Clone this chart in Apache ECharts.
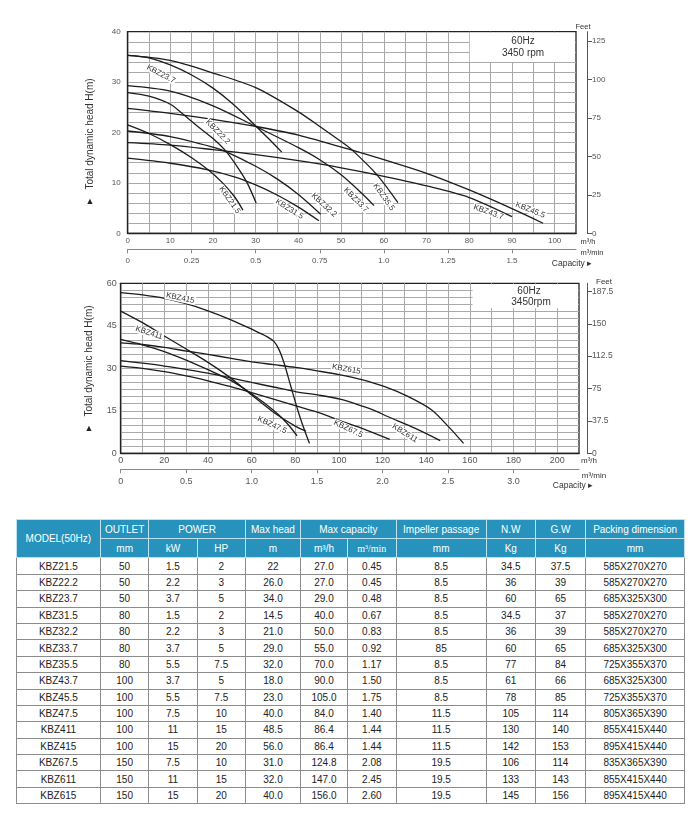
<!DOCTYPE html>
<html>
<head>
<meta charset="utf-8">
<script src="https://cdn.jsdelivr.net/npm/echarts@6/dist/echarts.min.js"></script>
<style>
  html, body { margin: 0; padding: 0; background: #fff; }
  body { width: 700px; height: 819px; position: relative; overflow: hidden; font-family: "Liberation Sans", Arial, sans-serif; }
  #chart { position: absolute; left: 0; top: 0; width: 700px; height: 512px; }
  #spec { position: absolute; left: 15.7px; top: 519px; border-collapse: collapse; table-layout: fixed; width: 669px; font-size: 10px; color: #222; }
  #spec td, #spec th { text-align: center; padding: 0; overflow: hidden; white-space: nowrap; }
  #spec th { background: #2793bc; color: #fff; font-weight: normal; border: 1px solid #bfe0ee; }
  #spec td { border: 1px solid #8c8c8c; height: 15.4px; line-height: 15px; }
  #spec tr.h1 th { height: 18px; }
  #spec tr.h2 th { height: 18.4px; }
</style>
</head>
<body>
<div id="chart"></div>
<table id="spec"></table>
<script>
// ---------------- chart 1 data (60Hz, capacity m3/h vs head m) ----------------
const kbz215 = [[0,21.5],[5,19.8],[10,17.6],[15,15.0],[19,12.5],[22,10.2],[25,7.3],[27,4.6]];
const kbz222 = [[0,27.9],[5,27.2],[10,25.6],[13,23.6],[16,21.5],[20,18.8],[23,16.3],[26,12.8],[28,10.0],[30.1,6.0]];
const kbz237 = [[0,35.3],[5,34.8],[10,33.4],[15,31.4],[20,28.8],[25,25.4],[30,21.3],[33,18.8],[36.1,16.1]];
const kbz315 = [[0,14.9],[10,13.9],[18.8,12.6],[25,11.2],[30,9.6],[35,7.6],[40,5.2],[44.8,2.5]];
const kbz322 = [[0,20.3],[10,19.2],[20,17.1],[23,16.2],[30,13.3],[35,10.8],[40,7.7],[45.2,3.8]];
const kbz337 = [[0,29.3],[10,28.2],[20,25.3],[30,21.2],[40,17.0],[45,14.6],[50,11.6],[55,7.8],[57.7,5.5]];
const kbz355 = [[0,35.3],[10,34.3],[20,31.8],[30,28.9],[40,24.1],[45,21.2],[50,18.2],[52.6,16.5],[58.4,11.6],[63.3,6.1]];
const kbz437 = [[0,18.0],[10,17.5],[20,16.6],[30,15.6],[40,14.4],[50,13.0],[58.4,11.6],[70,9.4],[80,7.1],[90,3.3]];
const kbz455 = [[0,24.8],[10,23.8],[20,22.6],[30,21.2],[40,19.5],[52.6,16.5],[60,14.6],[70,11.9],[80,8.6],[90,4.9],[97.3,2.0]];

// ---------------- chart 2 data ----------------
const kbz475 = [[0,40.2],[10,38.3],[20,35.9],[30,32.9],[40,29.5],[50,25.9],[60,21.0],[70,15.2],[76,10.8],[80.8,6.2]];
const kbz411 = [[0,50.2],[10,46.1],[20,41.4],[30,36.8],[40,32.1],[50,26.8],[60,20.6],[70,14.5],[80,9.6],[84.9,7.8]];
const kbz415 = [[0,56.7],[10,55.9],[20,54.7],[30,52.8],[40,50.3],[50,47.3],[60,43.8],[67,41.2],[70.3,39.4],[72.6,36.5],[74.9,31.8],[78,23.5],[81.1,15.3],[84.2,8.2],[86.5,3.5]];
const kbz675 = [[0,30.8],[10,30.0],[20,28.8],[30,27.3],[40,25.6],[50,23.6],[60,21.4],[70,19.1],[80,16.8],[91.8,14.1],[101,11.4],[110,9.0],[123.3,4.9]];
const kbz611 = [[0,32.7],[10,31.8],[20,30.8],[30,29.6],[40,28.3],[50,26.7],[60,25.0],[70,23.4],[80,21.8],[91.8,20.4],[101,19.0],[107,17.6],[115,15.5],[122.6,12.9],[135,8.8],[146.4,4.5]];
const kbz615 = [[0,39.0],[10,38.4],[20,37.4],[30,36.1],[40,34.9],[50,33.6],[60,32.3],[70,31.3],[80,30.3],[90,29.1],[100,27.8],[110,26.1],[121,23.5],[131.8,20.0],[142.5,15.3],[150.2,9.4],[157.1,3.5]];

const curveNames1 = ['KBZ21.5','KBZ22.2','KBZ23.7','KBZ31.5','KBZ32.2','KBZ33.7','KBZ35.5','KBZ43.7','KBZ45.5'];
const curveData1 = [kbz215,kbz222,kbz237,kbz315,kbz322,kbz337,kbz355,kbz437,kbz455];
const curveNames2 = ['KBZ47.5','KBZ411','KBZ415','KBZ67.5','KBZ611','KBZ615'];
const curveData2 = [kbz475,kbz411,kbz415,kbz675,kbz611,kbz615];

// tick values / labels
const minTicks1 = [0,0.25,0.5,0.75,1.0,1.25,1.5];
const minLabels1 = ['0','0.25','0.5','0.75','1.0','1.25','1.5'];
const minTicks2 = [0,0.5,1.0,1.5,2.0,2.5,3.0];
const minLabels2 = ['0','0.5','1.0','1.5','2.0','2.5','3.0'];
const feetTicks1 = [0,25,50,75,100,125];
const feetTicks2 = [0,37.5,75,112.5,150,187.5];
const feetLabels2 = ['0','37.5','75','112.5','150','187.5'];

// ---------------- table data (50Hz) ----------------
const models = ['KBZ21.5','KBZ22.2','KBZ23.7','KBZ31.5','KBZ32.2','KBZ33.7','KBZ35.5','KBZ43.7','KBZ45.5','KBZ47.5','KBZ411','KBZ415','KBZ67.5','KBZ611','KBZ615'];
const outlet = ['50','50','50','80','80','80','80','100','100','100','100','100','150','150','150'];
const powerKw = ['1.5','2.2','3.7','1.5','2.2','3.7','5.5','3.7','5.5','7.5','11','15','7.5','11','15'];
const powerHp = ['2','3','5','2','3','5','7.5','5','7.5','10','15','20','10','15','20'];
const maxHead = ['22','26.0','34.0','14.5','21.0','29.0','32.0','18.0','23.0','40.0','48.5','56.0','31.0','32.0','40.0'];
const capH = ['27.0','27.0','29.0','40.0','50.0','55.0','70.0','90.0','105.0','84.0','86.4','86.4','124.8','147.0','156.0'];
const capMin = ['0.45','0.45','0.48','0.67','0.83','0.92','1.17','1.50','1.75','1.40','1.44','1.44','2.08','2.45','2.60'];
const impeller = ['8.5','8.5','8.5','8.5','8.5','85','8.5','8.5','8.5','11.5','11.5','11.5','19.5','19.5','19.5'];
const netW = ['34.5','36','60','34.5','36','60','77','61','78','105','130','142','106','133','145'];
const grossW = ['37.5','39','65','37','39','65','84','66','85','114','140','153','114','143','156'];
const packing = ['585X270X270','585X270X270','685X325X300','585X270X270','585X270X270','685X325X300','725X355X370','685X325X300','725X355X370','805X365X390','855X415X440','895X415X440','835X365X390','855X415X440','895X415X440'];

// ---------------- build table ----------------
(function buildTable(){
  const colW = [84.3,48.3,48.4,48.3,55,47,48.7,90,49.3,50,99.3];
  let h = '<colgroup>' + colW.map(w => '<col style="width:'+w+'px">').join('') + '</colgroup>';
  h += '<tr class="h1"><th rowspan="2">MODEL(50Hz)</th><th>OUTLET</th><th colspan="2">POWER</th><th>Max head</th><th colspan="2">Max capacity</th><th>Impeller passage</th><th>N.W</th><th>G.W</th><th>Packing dimension</th></tr>';
  h += '<tr class="h2"><th>mm</th><th>kW</th><th>HP</th><th>m</th><th>m³/h</th><th style="font-family:\'Liberation Serif\',serif">m³/min</th><th>mm</th><th>Kg</th><th>Kg</th><th>mm</th></tr>';
  for (let i = 0; i < models.length; i++) {
    const row = [models[i], outlet[i], powerKw[i], powerHp[i], maxHead[i], capH[i], capMin[i], impeller[i], netW[i], grossW[i], packing[i]];
    h += '<tr>' + row.map(c => '<td>'+c+'</td>').join('') + '</tr>';
  }
  document.getElementById('spec').innerHTML = h;
})();

// ---------------- chart ----------------
const FONT = '"Liberation Sans", Arial, sans-serif';
const GRID_LINE = { color: '#a9a9a9', width: 1 };
const AX_LABEL = { fontSize: 8, color: '#555', fontFamily: FONT };
const CURVE = { color: '#1c1c1c', width: 1.3 };

const chart = echarts.init(document.getElementById('chart'), null, { renderer: 'canvas' });

function lookup(ticks, labels) {
  return function (v) {
    for (let i = 0; i < ticks.length; i++) if (Math.abs(ticks[i] - v) < 1e-6) return labels[i];
    return '';
  };
}

const series = [];
curveData1.forEach((d, i) => series.push({
  name: curveNames1[i], type: 'line', xAxisIndex: 0, yAxisIndex: 0, data: d,
  smooth: 0.3, showSymbol: false, symbol: 'none', silent: true,
  lineStyle: CURVE, z: 3
}));
curveData2.forEach((d, i) => series.push({
  name: curveNames2[i], type: 'line', xAxisIndex: 2, yAxisIndex: 2, data: d,
  smooth: 0.3, showSymbol: false, symbol: 'none', silent: true,
  lineStyle: CURVE, z: 3
}));

const option = {
  animation: false,
  backgroundColor: '#fff',
  textStyle: { fontFamily: FONT },
  grid: [
    { left: 127.6, top: 31.7, width: 448.4, height: 201.6, show: true, borderColor: '#222', borderWidth: 1.3, backgroundColor: 'transparent' },
    { left: 120.7, top: 283.3, width: 458.3, height: 170, show: true, borderColor: '#222', borderWidth: 1.3, backgroundColor: 'transparent' }
  ],
  xAxis: [
    { gridIndex: 0, type: 'value', min: 0, max: 105, interval: 5,
      axisLine: { show: true, onZero: false, lineStyle: { color: '#222', width: 1.3 } }, axisTick: { show: false },
      splitLine: { show: true, showMinLine: false, showMaxLine: false, lineStyle: GRID_LINE },
      axisLabel: Object.assign({ margin: 3, showMaxLabel: false, formatter: v => (v % 10 === 0 && v <= 100) ? String(v) : '' }, AX_LABEL) },
    { gridIndex: 0, type: 'value', position: 'bottom', offset: 16, min: 0, max: 1.75,
      axisLine: { show: true, onZero: false, lineStyle: { color: '#888', width: 1 } },
      axisTick: { show: true, customValues: minTicks1, length: 4, lineStyle: { color: '#888' } },
      splitLine: { show: false },
      axisLabel: Object.assign({ margin: 7, customValues: minTicks1, formatter: lookup(minTicks1, minLabels1) }, AX_LABEL) },
    { gridIndex: 1, type: 'value', min: 0, max: 210, interval: 10,
      axisLine: { show: true, onZero: false, lineStyle: { color: '#222', width: 1.3 } }, axisTick: { show: false },
      splitLine: { show: true, showMinLine: false, showMaxLine: false, lineStyle: GRID_LINE },
      axisLabel: Object.assign({}, AX_LABEL, { fontSize: 9, margin: 3, showMaxLabel: false, formatter: v => (v % 20 === 0 && v <= 200) ? String(v) : '' }) },
    { gridIndex: 1, type: 'value', position: 'bottom', offset: 16, min: 0, max: 3.5,
      axisLine: { show: true, onZero: false, lineStyle: { color: '#888', width: 1 } },
      axisTick: { show: true, customValues: minTicks2, length: 4, lineStyle: { color: '#888' } },
      splitLine: { show: false },
      axisLabel: Object.assign({}, AX_LABEL, { fontSize: 9, margin: 8, customValues: minTicks2, formatter: lookup(minTicks2, minLabels2) }) }
  ],
  yAxis: [
    { gridIndex: 0, type: 'value', min: 0, max: 40, interval: 2,
      axisLine: { show: true, onZero: false, lineStyle: { color: '#222', width: 1.3 } }, axisTick: { show: false },
      splitLine: { show: true, showMinLine: false, showMaxLine: false, lineStyle: GRID_LINE },
      axisLabel: Object.assign({ margin: 7, formatter: v => (v % 10 === 0) ? String(v) : '' }, AX_LABEL) },
    { gridIndex: 0, type: 'value', position: 'right', offset: 11, min: 0, max: 40 * 3.28084,
      axisLine: { show: true, onZero: false, lineStyle: { color: '#555', width: 1 } },
      axisTick: { show: true, customValues: feetTicks1, length: 5, lineStyle: { color: '#555' } },
      splitLine: { show: false },
      axisLabel: Object.assign({ margin: 5, customValues: feetTicks1, formatter: v => String(v) }, AX_LABEL) },
    { gridIndex: 1, type: 'value', min: 0, max: 60, interval: 2.5,
      axisLine: { show: true, onZero: false, lineStyle: { color: '#222', width: 1.3 } }, axisTick: { show: false },
      splitLine: { show: true, showMinLine: false, showMaxLine: false, lineStyle: GRID_LINE },
      axisLabel: Object.assign({}, AX_LABEL, { fontSize: 9, margin: 4, formatter: v => (v % 15 === 0) ? String(v) : '' }) },
    { gridIndex: 1, type: 'value', position: 'right', offset: 8, min: 0, max: 60 * 3.28084,
      axisLine: { show: true, onZero: false, lineStyle: { color: '#555', width: 1 } },
      axisTick: { show: true, customValues: feetTicks2, length: 5, lineStyle: { color: '#555' } },
      splitLine: { show: false },
      axisLabel: Object.assign({}, AX_LABEL, { fontSize: 8.5, margin: 5, customValues: feetTicks2, formatter: lookup(feetTicks2, feetLabels2) }) }
  ],
  series: series
};
chart.setOption(option);

// ---------------- annotations (anchored in data coordinates) ----------------
const labelPos1 = [ // name, x, y, angle(deg, clockwise)
  ['KBZ23.7', 7.8, 31.6, 28], ['KBZ22.2', 21.1, 20.1, 45], ['KBZ21.5', 23.9, 6.6, 55],
  ['KBZ31.5', 37.9, 4.8, 32], ['KBZ32.2', 46.0, 5.6, 42], ['KBZ33.7', 53.5, 6.6, 45],
  ['KBZ35.5', 60.0, 7.2, 55], ['KBZ43.7', 84.5, 4.2, 20], ['KBZ45.5', 94.3, 4.6, 22]
];
const labelPos2 = [
  ['KBZ415', 27.3, 54.8, 12], ['KBZ411', 13.0, 42.5, 18], ['KBZ47.5', 69.4, 10.0, 25],
  ['KBZ615', 103.4, 29.7, 10], ['KBZ67.5', 104.3, 8.6, 25], ['KBZ611', 130.2, 7.1, 32]
];

function px(gi, x, y) {
  return chart.convertToPixel({ xAxisIndex: gi === 0 ? 0 : 2, yAxisIndex: gi === 0 ? 0 : 2 }, [x, y]);
}
function curveLabel(gi, l) {
  const p = px(gi, l[1], l[2]);
  return { type: 'text', x: p[0], y: p[1], rotation: -l[3] * Math.PI / 180, z: 20,
    style: { text: l[0], fontSize: 8, fill: '#333', fontFamily: FONT, align: 'center', verticalAlign: 'middle',
      backgroundColor: '#fff', padding: [0, 1] } };
}
function plainText(x, y, text, size, extra) {
  return { type: 'text', x: x, y: y, z: 20,
    style: Object.assign({ text: text, fontSize: size, fill: '#333', fontFamily: FONT, align: 'center', verticalAlign: 'middle' }, extra || {}) };
}
function box(gi, x0, y0, x1, y1) {
  const a = px(gi, x0, y0), b = px(gi, x1, y1);
  return { type: 'rect', z: 15, shape: { x: a[0] + 0.5, y: a[1] + 1, width: b[0] - a[0] - 1.5, height: b[1] - a[1] - 1 },
    style: { fill: '#fff' } };
}

const g = [];
g.push(box(0, 80, 40, 105, 34));
g.push(box(1, 161, 60, 210, 51.2));
labelPos1.forEach(l => g.push(curveLabel(0, l)));
labelPos2.forEach(l => g.push(curveLabel(1, l)));
g.push(plainText(523, 41, '60Hz', 10));
g.push(plainText(523, 52.8, '3450 rpm', 10));
g.push(plainText(529, 291.5, '60Hz', 10));
g.push(plainText(531, 302.5, '3450rpm', 10));
// feet titles
g.push(plainText(583, 27, 'Feet', 7.5));
g.push(plainText(604, 282, 'Feet', 8));
// capacity unit texts
g.push(plainText(588, 241.5, 'm³/h', 7.5));
g.push(plainText(592, 252.5, 'm³/min', 7.5));
g.push(plainText(572, 263.5, 'Capacity ▸', 8.5));
g.push(plainText(589, 460.5, 'm³/h', 8));
g.push(plainText(594, 475.5, 'm³/min', 8));
g.push(plainText(573, 485.5, 'Capacity ▸', 8.5));
// y titles
g.push({ type: 'text', x: 90, y: 134, rotation: Math.PI / 2, z: 20,
  style: { text: 'Total dynamic head H(m)', fontSize: 10, fill: '#333', fontFamily: FONT, align: 'center', verticalAlign: 'middle' } });
g.push(plainText(90, 202, '▲', 9, { fill: '#222' }));
g.push({ type: 'text', x: 89, y: 361, rotation: Math.PI / 2, z: 20,
  style: { text: 'Total dynamic head H(m)', fontSize: 10, fill: '#333', fontFamily: FONT, align: 'center', verticalAlign: 'middle' } });
g.push(plainText(89, 429, '▲', 9, { fill: '#222' }));

chart.setOption({ graphic: g });
</script>
</body>
</html>
